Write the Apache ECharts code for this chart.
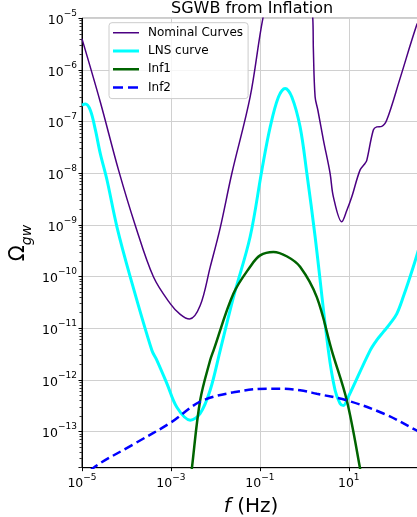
<!DOCTYPE html>
<html>
<head>
<meta charset="utf-8">
<script src="https://cdn.jsdelivr.net/npm/echarts@6/dist/echarts.min.js"></script>
<style>
html, body { margin: 0; padding: 0; background: #fff; }
#chart { width: 417px; height: 517px; }
</style>
</head>
<body>
<div id="chart"></div>
<script>
// [f (Hz), Omega_gw]
const nominalCurves = [
    [1e-5, 4.0e-6], [2.58e-5, 2.4e-7], [6.64e-5, 1.15e-8], [1.58e-4, 9.8e-10],
    [4.06e-4, 9.8e-11], [9.64e-4, 3.0e-11], [1.62e-3, 1.86e-11], [2.62e-3, 1.51e-11],
    [4.55e-3, 2.75e-11], [7.62e-3, 1.51e-10], [1.28e-2, 8.7e-10], [2.35e-2, 1.0e-8],
    [6.05e-2, 3.0e-7], [0.117, 1.0e-5], [0.2, 6e-5], [0.6, 2e-4], [1.3, 6e-5],
    [1.55, 1.0e-5], [1.60, 2.45e-6], [1.75, 3.0e-7], [2.02, 1.66e-7], [2.69, 4.4e-8],
    [3.80, 1.0e-8], [4.51, 3.5e-9], [6.97, 1.15e-9], [9.02, 1.9e-9], [11.7, 3.5e-9],
    [17.9, 1.15e-8], [23.2, 1.55e-8], [25.4, 1.78e-8], [35.7, 6.9e-8], [42.6, 7.9e-8],
    [55.2, 8.1e-8], [71.5, 1.07e-7], [142, 6.8e-7], [337, 7.4e-6], [398, 9.3e-6]
];
const lnsCurve = [
    [1e-5, 2.09e-7], [1.19e-5, 2.19e-7], [1.54e-5, 1.66e-7], [2.0e-5, 6.9e-8],
    [2.58e-5, 2.4e-8], [3.65e-5, 7.4e-9], [6.12e-5, 9.1e-10], [1.22e-4, 9.8e-11],
    [3.74e-4, 3.7e-12], [4.84e-4, 2.4e-12], [8.13e-4, 8.5e-13], [1.36e-3, 2.95e-13],
    [2.72e-3, 1.66e-13], [4.55e-3, 2.24e-13], [7.62e-3, 6.3e-13], [1.28e-2, 3.7e-12],
    [2.55e-2, 4.0e-11], [6.05e-2, 5.9e-10], [0.111, 1.15e-8], [0.171, 7.9e-8],
    [0.262, 3.0e-7], [0.371, 4.4e-7], [0.524, 3.0e-7], [0.804, 7.9e-8], [1.14, 1.0e-8],
    [1.75, 5.9e-10], [3.48, 3.7e-12], [4.92, 6.3e-13], [6.37, 3.5e-13], [7.57, 3.2e-13],
    [9.79, 4.7e-13], [30.1, 3.7e-12], [42.6, 5.9e-12], [60.0, 8.5e-12], [84.7, 1.23e-11],
    [120, 1.9e-11], [169, 4.1e-11], [283, 1.55e-10], [398, 4.1e-10]
];
const inf1 = [
    [2.4e-3, 4e-15], [2.96e-3, 1.95e-14], [4.55e-3, 4.03e-13], [7.62e-3, 2.4e-12],
    [9.06e-3, 3.7e-12], [2.55e-2, 4.7e-11], [6.05e-2, 1.55e-10], [0.1016, 2.57e-10],
    [0.202, 3.0e-10], [0.411, 2.45e-10], [0.804, 1.55e-10], [1.91, 4.0e-11],
    [4.15, 3.7e-12], [9.02, 4.03e-13], [17.9, 1.95e-14], [23, 5e-15]
];
const inf2 = [
    [1e-5, 1.1e-14], [1.82e-5, 2.0e-14], [1.45e-4, 5.7e-14], [1e-3, 1.5e-13],
    [4.55e-3, 3.8e-13], [2.55e-2, 5.75e-13], [0.1435, 6.76e-13], [0.286, 6.76e-13],
    [0.804, 6.3e-13], [1.91, 5.4e-13], [9.02, 4.03e-13], [60, 2.24e-13],
    [337, 1.05e-13], [398, 9.5e-14]
];

const FONT = 'DejaVu Sans';
const chart = echarts.init(document.getElementById('chart'));

// 10^n style tick labels, only on whole decades
function powLabel(v) {
    const l = Math.log10(v);
    const e = Math.round(l);
    if (Math.abs(l - e) > 1e-6) return '';
    return '{b|10}{s|' + (e < 0 ? '\u2212' + (-e) : e) + '}';
}
const powRich = {
    b: { fontSize: 12.5, fontFamily: FONT, color: '#000', padding: [5, 0, 0, 0], verticalAlign: 'bottom' },
    s: { fontSize: 9, fontFamily: FONT, color: '#000', verticalAlign: 'top' }
};

// minor ticks of the log y axis: 2..9 x each decade
const yMinorTicks = [];
for (let e = -14; e < -5; e++) {
    for (let k = 2; k <= 9; k++) {
        const v = k * Math.pow(10, e);
        if (v >= 2e-14 && v <= 1e-5) yMinorTicks.push(v);
    }
}

// legend samples as plain strokes (corner dots keep the 26x14 box)
const box = 'M0,0h0.01v0.01h-0.01z M25.99,13.99h0.01v0.01h-0.01z ';
const iconSolid = w => 'path://' + box + 'M0,' + (7 - w / 2) + 'h26v' + w + 'h-26z';
const iconDash = 'path://' + box + 'M0,5.75h10v2.5h-10z M15,5.75h10v2.5h-10z';

function lineSeries(name, data, color, width, type) {
    return {
        name: name,
        type: 'line',
        data: data,
        showSymbol: false,
        symbol: 'none',
        smooth: 0.35,
        clip: true,
        lineStyle: { color: color, width: width, type: type || 'solid' },
        itemStyle: { color: color },
        emphasis: { disabled: true }
    };
}

chart.setOption({
    animation: false,
    title: {
        text: 'SGWB from Inflation',
        left: 166,
        top: -4,
        textStyle: { fontFamily: FONT, fontSize: 16, fontWeight: 'normal', color: '#000' }
    },
    legend: {
        left: 109,
        top: 22.7,
        orient: 'vertical',
        itemWidth: 26,
        itemHeight: 14,
        itemGap: 4.3,
        padding: [3, 5, 4, 4],
        backgroundColor: 'rgba(255,255,255,0.8)',
        borderColor: '#cccccc',
        borderWidth: 1,
        borderRadius: 3,
        textStyle: { fontFamily: FONT, fontSize: 12, color: '#000', padding: [0, 0, 0, 4] },
        data: [
            { name: 'Nominal Curves', icon: iconSolid(1.5) },
            { name: 'LNS curve', icon: iconSolid(3) },
            { name: 'Inf1', icon: iconSolid(2.5) },
            { name: 'Inf2', icon: iconDash }
        ]
    },
    grid: {
        left: 82,
        top: 18.3,
        right: -3,
        bottom: 49.3,
        outerBoundsMode: 'none',
        show: true,
        borderColor: '#000',
        borderWidth: 1
    },
    xAxis: {
        type: 'log',
        min: 1e-5,
        max: 400,
        interval: 2,
        name: '{i|f} (Hz)',
        nameLocation: 'middle',
        nameGap: 29,
        nameTextStyle: {
            fontFamily: FONT, fontSize: 20, color: '#000',
            rich: { i: { fontFamily: FONT, fontSize: 20, fontStyle: 'italic', color: '#000' } }
        },
        axisLine: { lineStyle: { color: '#000', width: 1 } },
        axisTick: { show: true, length: 3.5, lineStyle: { color: '#000' } },
        axisLabel: { formatter: powLabel, rich: powRich, margin: 5 },
        splitLine: { show: true, lineStyle: { color: '#d0d0d0', width: 1 } }
    },
    yAxis: [{
        type: 'log',
        min: 2e-14,
        max: 1e-5,
        name: '{o|\u03A9}{g|gw}',
        nameLocation: 'middle',
        nameRotate: 90,
        nameGap: 48,
        nameMoveOverlap: false,
        nameTextStyle: {
            rich: {
                o: { fontFamily: FONT, fontSize: 21, color: '#000', padding: [0, 0, 5, 0], verticalAlign: 'bottom' },
                g: { fontFamily: FONT, fontSize: 14, fontStyle: 'italic', color: '#000', verticalAlign: 'bottom' }
            }
        },
        axisLine: { lineStyle: { color: '#000', width: 1 } },
        axisTick: { show: true, length: 3.5, lineStyle: { color: '#000' } },
        axisLabel: { formatter: powLabel, rich: powRich, margin: 5 },
        splitLine: { show: true, lineStyle: { color: '#d0d0d0', width: 1 } }
    }, {
        // carries only the minor ticks
        type: 'log',
        min: 2e-14,
        max: 1e-5,
        position: 'left',
        axisLine: { show: false },
        axisTick: { show: true, length: 2.5, customValues: yMinorTicks, lineStyle: { color: '#333', width: 1 } },
        axisLabel: { show: false },
        splitLine: { show: false }
    }],
    series: [
        lineSeries('Nominal Curves', nominalCurves, '#4B0082', 1.5),
        lineSeries('LNS curve', lnsCurve, '#00FFFF', 3),
        lineSeries('Inf1', inf1, '#006400', 2.5),
        lineSeries('Inf2', inf2, '#0000FF', 2.5, [9, 4.5])
    ]
});
</script>
</body>
</html>
